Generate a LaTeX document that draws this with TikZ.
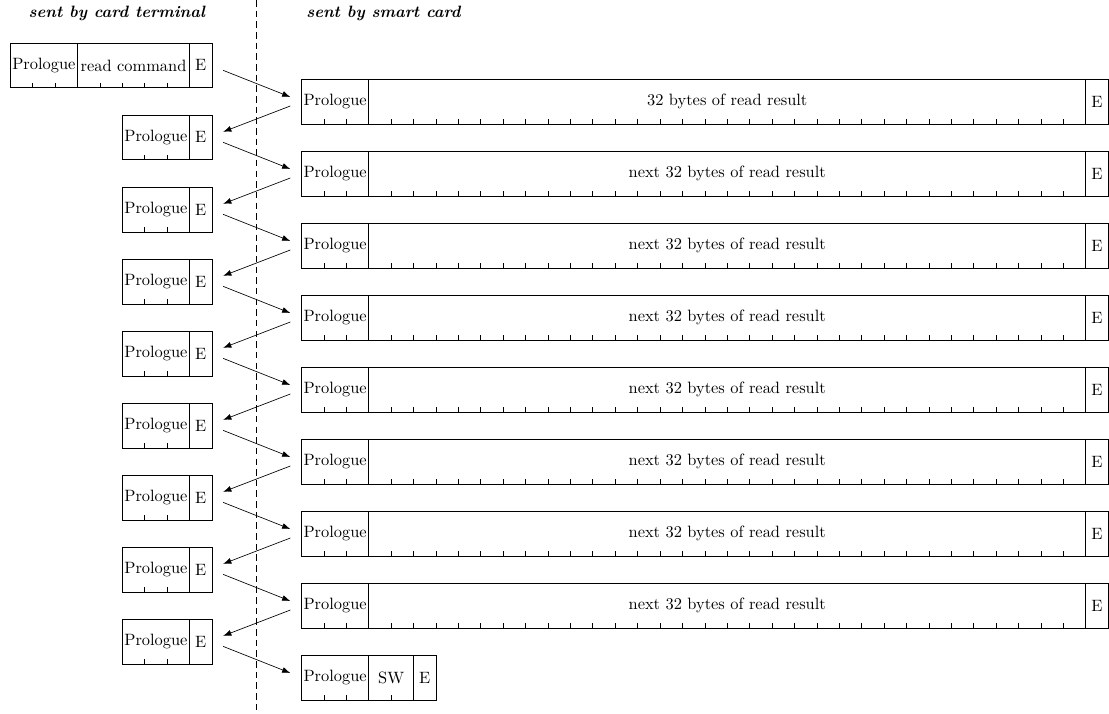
\documentclass[tikz,border=0pt]{standalone}
\usepackage{tikz}
\usetikzlibrary{arrows.meta,calc}

\def\bytew{0.48cm}
% one field of a frame: name, position, bytes, text
\newcommand{\bytefield}[4]{%
  \node[field, minimum width=#3*\bytew] (#1) at #2 {#4};
  \pgfmathtruncatemacro{\lasttick}{#3-1}%
  \ifnum\lasttick>0
    \foreach \t in {1,...,\lasttick}
      \draw ([xshift=\t*\bytew]#1.south west) -- ++(0,-0.2);
  \fi}

\begin{document}
\begin{tikzpicture}[
    x=\bytew, y=-\bytew,
    field/.style={draw, inner sep=0pt, outer sep=0pt, minimum height=2*\bytew, anchor=north west},
    msg/.style={-{Latex[length=5pt,width=3.6pt]}},
    title/.style={font=\bfseries\itshape, inner sep=0pt}
]
\useasboundingbox (-9.46,0) rectangle (40.04,31.83);

% headings and separator
\node[title, anchor=east] (termtitle) at (-0.3,0.62) {sent by card terminal};
\node[title, anchor=west] (cardtitle) at (4.2,0.62) {sent by smart card};
\coordinate (divtop) at (2,0);
\coordinate (divbot) at (2,31.7);
\draw[dash pattern=on 4pt off 2.5pt] (divtop) -- (divbot);

% frames of the card terminal
\bytefield{tP0}{(-9,1.92)}{3}{Prologue}
\bytefield{tC0}{(tP0.north east)}{5}{read command}
\bytefield{tE0}{(tC0.north east)}{1}{E}
\foreach \k in {1,...,8} {
  \pgfmathsetmacro{\ty}{1.92+3.214*\k}
  \bytefield{tP\k}{(-4,\ty)}{3}{Prologue}
  \bytefield{tE\k}{(tP\k.north east)}{1}{E}
}

% frames of the smart card
\foreach \k in {0,...,7} {
  \pgfmathsetmacro{\sy}{3.53+3.214*\k}
  \bytefield{sP\k}{(4,\sy)}{3}{Prologue}
  \ifnum\k=0
    \bytefield{sD\k}{(sP\k.north east)}{32}{32 bytes of read result}
  \else
    \bytefield{sD\k}{(sP\k.north east)}{32}{next 32 bytes of read result}
  \fi
  \bytefield{sE\k}{(sD\k.north east)}{1}{E}
}
\bytefield{sP8}{(4,29.24)}{3}{Prologue}
\bytefield{sW8}{(sP8.north east)}{2}{SW}
\bytefield{sE8}{(sW8.north east)}{1}{E}

% exchange
\foreach \k in {0,...,8}
  \draw[msg] ([shift={(0.5,0.22)}]tE\k.east) -- ([shift={(-0.5,-0.2)}]sP\k.west);
\foreach \k in {0,...,7} {
  \pgfmathtruncatemacro{\nk}{\k+1}
  \draw[msg] ([shift={(-0.5,0.2)}]sP\k.west) -- ([shift={(0.5,-0.25)}]tE\nk.east);
}
\end{tikzpicture}
\end{document}
